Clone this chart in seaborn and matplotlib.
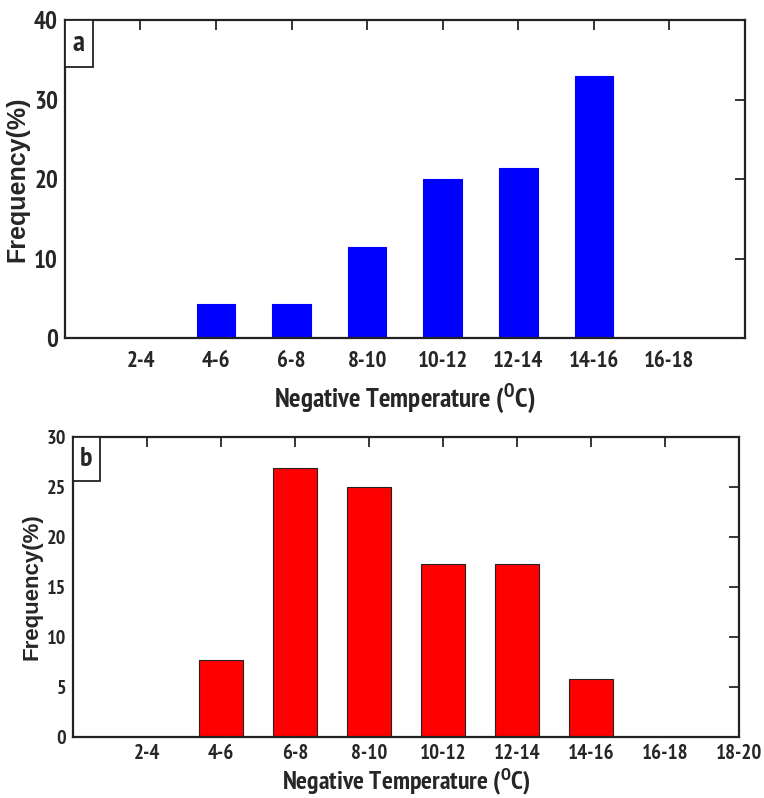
import pandas as pd
import matplotlib
matplotlib.use('Agg')
import matplotlib.pyplot as plt
import seaborn as sns
from matplotlib import font_manager
from matplotlib.patches import Rectangle

# Данные панели (a)
bins_a = ['2-4', '4-6', '6-8', '8-10', '10-12', '12-14', '14-16', '16-18']
freq_a = [0, 4.3, 4.3, 11.4, 20.0, 21.4, 32.9, 0]

# Данные панели (b)
bins_b = ['2-4', '4-6', '6-8', '8-10', '10-12', '12-14', '14-16', '16-18', '18-20']
freq_b = [0, 7.7, 26.9, 25.0, 17.3, 17.3, 5.8, 0, 0]


def pick_font(candidates):
    # первый установленный шрифт, у которого есть жирное начертание
    for name in candidates:
        for f in font_manager.fontManager.ttflist:
            w = f.weight
            if isinstance(w, str):
                w = font_manager.weight_dict.get(w.lower(), 400)
            if f.name == name and w >= 600 and f.style == 'normal':
                return name
    return 'DejaVu Sans'


narrow = pick_font(['Arial Narrow', 'Liberation Sans Narrow', 'PT Sans Narrow',
                    'Roboto Condensed', 'Archivo Narrow', 'Liberation Sans'])
wide = pick_font(['Liberation Sans', 'Arimo', 'DejaVu Sans'])

sns.set_style('white')
plt.rcParams['font.family'] = [narrow, 'DejaVu Sans']
plt.rcParams['font.weight'] = 'bold'
plt.rcParams['mathtext.fontset'] = 'custom'
plt.rcParams['mathtext.rm'] = narrow + ':bold'
plt.rcParams['mathtext.it'] = narrow + ':bold'
plt.rcParams['mathtext.bf'] = narrow + ':bold'

fig = plt.figure(figsize=(7.64, 7.98), dpi=100)
ax_a = fig.add_axes([0.085, 0.5764, 0.89, 0.3985])
ax_b = fig.add_axes([0.0955, 0.0764, 0.872, 0.376])

df_a = pd.DataFrame({'bin': bins_a, 'freq': freq_a})
df_b = pd.DataFrame({'bin': bins_b, 'freq': freq_b})

sns.barplot(data=df_a, x='bin', y='freq', order=bins_a, color='#0000ff',
            saturation=1, width=0.51, edgecolor='#0000ff', linewidth=0.8, ax=ax_a)
sns.barplot(data=df_b, x='bin', y='freq', order=bins_b, color='#ff0000',
            saturation=1, width=0.6, edgecolor='#222222', linewidth=0.8, ax=ax_b)


def style_axes(ax, ymax, yticks, label, fs_x, fs_y, fs_xlab, fs_ylab,
               xpad, xlabpad, box_w, box_h, fs_box):
    ax.set_xlim(-1, 8)
    ax.set_ylim(0, ymax)
    ax.set_yticks(yticks)
    ax.tick_params(direction='in', top=True, right=True, length=7, width=1.3)
    ax.tick_params(axis='x', labelsize=fs_x, pad=xpad)
    ax.tick_params(axis='y', labelsize=fs_y, pad=5)
    for lbl in ax.get_xticklabels() + ax.get_yticklabels():
        lbl.set_fontweight('bold')
    for sp in ax.spines.values():
        sp.set_visible(True)
        sp.set_linewidth(1.6)
        sp.set_color('#222222')
    ax.set_xlabel('Negative Temperature ($^{\\mathrm{O}}$C)', fontsize=fs_xlab,
                  fontweight='bold', labelpad=xlabpad)
    ax.set_ylabel('Frequency(%)', fontsize=fs_ylab, fontweight='bold',
                  labelpad=3, family=[wide, 'DejaVu Sans'])
    ax.add_patch(Rectangle((0, 1 - box_h), box_w, box_h, transform=ax.transAxes,
                           facecolor='white', edgecolor='#222222', linewidth=1.3,
                           zorder=5, clip_on=False))
    ax.text(box_w / 2, 1 - box_h / 2, label, transform=ax.transAxes, ha='center',
            va='center', fontsize=fs_box, fontweight='bold', zorder=6)


style_axes(ax_a, 40, [0, 10, 20, 30, 40], 'a', 16.5, 18, 19.5, 18, 9, 8,
           0.041, 0.148, 21)
style_axes(ax_b, 30, [0, 5, 10, 15, 20, 25, 30], 'b', 15, 14.5, 18.5, 16, 5, 2,
           0.040, 0.147, 20)
ax_b.set_xticks(range(len(bins_b)))
ax_b.set_xticklabels(bins_b, fontweight='bold')

fig.savefig('out.png', dpi=100)
